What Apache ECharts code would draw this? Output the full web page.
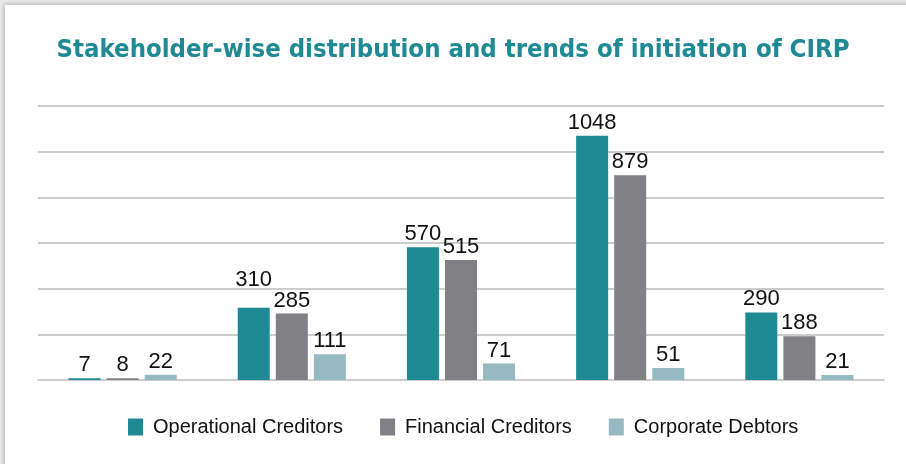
<!DOCTYPE html>
<html>
<head>
<meta charset="utf-8">
<script src="https://cdn.jsdelivr.net/npm/echarts@6/dist/echarts.min.js"></script>
<style>
  html, body { margin: 0; padding: 0; width: 906px; height: 464px; overflow: hidden; background: #e9e9e9; }
  #card { position: absolute; left: 5px; top: 5px; width: 960px; height: 520px; background: #fff; box-shadow: 0 0 5px rgba(0,0,0,0.35); }
  #chart { position: absolute; left: 0; top: 0; width: 906px; height: 464px; }
</style>
</head>
<body>
<div id="card"></div>
<div id="chart"></div>
<script>
const titleText = 'Stakeholder-wise distribution and trends of initiation of CIRP';
const categories = ['2016-17', '2017-18', '2018-19', '2019-20', '2020-21'];
const seriesNames = ['Operational Creditors', 'Financial Creditors', 'Corporate Debtors'];
const operationalCreditors = [7, 310, 570, 1048, 290];
const financialCreditors = [8, 285, 515, 879, 188];
const corporateDebtors = [22, 111, 71, 51, 21];
const seriesColors = ['#1f8a94', '#818185', '#97b9c2'];

const chart = echarts.init(document.getElementById('chart'), null, { renderer: 'canvas' });
const values = [operationalCreditors, financialCreditors, corporateDebtors];

// Build data items; raise the one label that would collide with its neighbour (as in the original)
function buildData(arr, seriesIndex) {
  return arr.map((v, j) => {
    if (seriesIndex === 0 && j === 1) {
      return { value: v, label: { offset: [0, -15] } };
    }
    return v;
  });
}

chart.setOption({
  animation: false,
  title: {
    text: titleText,
    left: 'center',
    top: 32,
    textStyle: {
      color: '#1f8a94',
      fontSize: 25.5,
      fontWeight: 'bold',
      fontFamily: "'Liberation Sans Narrow', 'DejaVu Sans Condensed', 'Liberation Sans', sans-serif"
    }
  },
  legend: {
    top: 412,
    left: 123,
    itemWidth: 15,
    itemHeight: 17,
    itemGap: 37,
    icon: 'rect',
    textStyle: { color: '#111', fontSize: 20, fontFamily: "'Liberation Sans', Arial, sans-serif", padding: [0, 0, 0, 5] },
    data: seriesNames
  },
  grid: { left: 38, right: 22, top: 106, bottom: 84, containLabel: false },
  xAxis: {
    type: 'category',
    data: categories,
    axisLine: { show: true, lineStyle: { color: '#cccccc', width: 2 } },
    axisTick: { show: false },
    axisLabel: { show: false }
  },
  yAxis: {
    type: 'value',
    min: 0,
    max: 1176,
    interval: 196,
    axisLine: { show: false },
    axisTick: { show: false },
    axisLabel: { show: false },
    splitLine: { lineStyle: { color: '#cccccc', width: 2 } }
  },
  series: seriesNames.map((name, i) => ({
    name: name,
    type: 'bar',
    data: buildData(values[i], i),
    barWidth: 32,
    barGap: '19%',
    itemStyle: { color: seriesColors[i] },
    label: {
      show: true,
      position: 'top',
      distance: 2,
      color: '#111',
      fontSize: 22,
      fontFamily: "'Liberation Sans', Arial, sans-serif"
    }
  }))
});
</script>
</body>
</html>
